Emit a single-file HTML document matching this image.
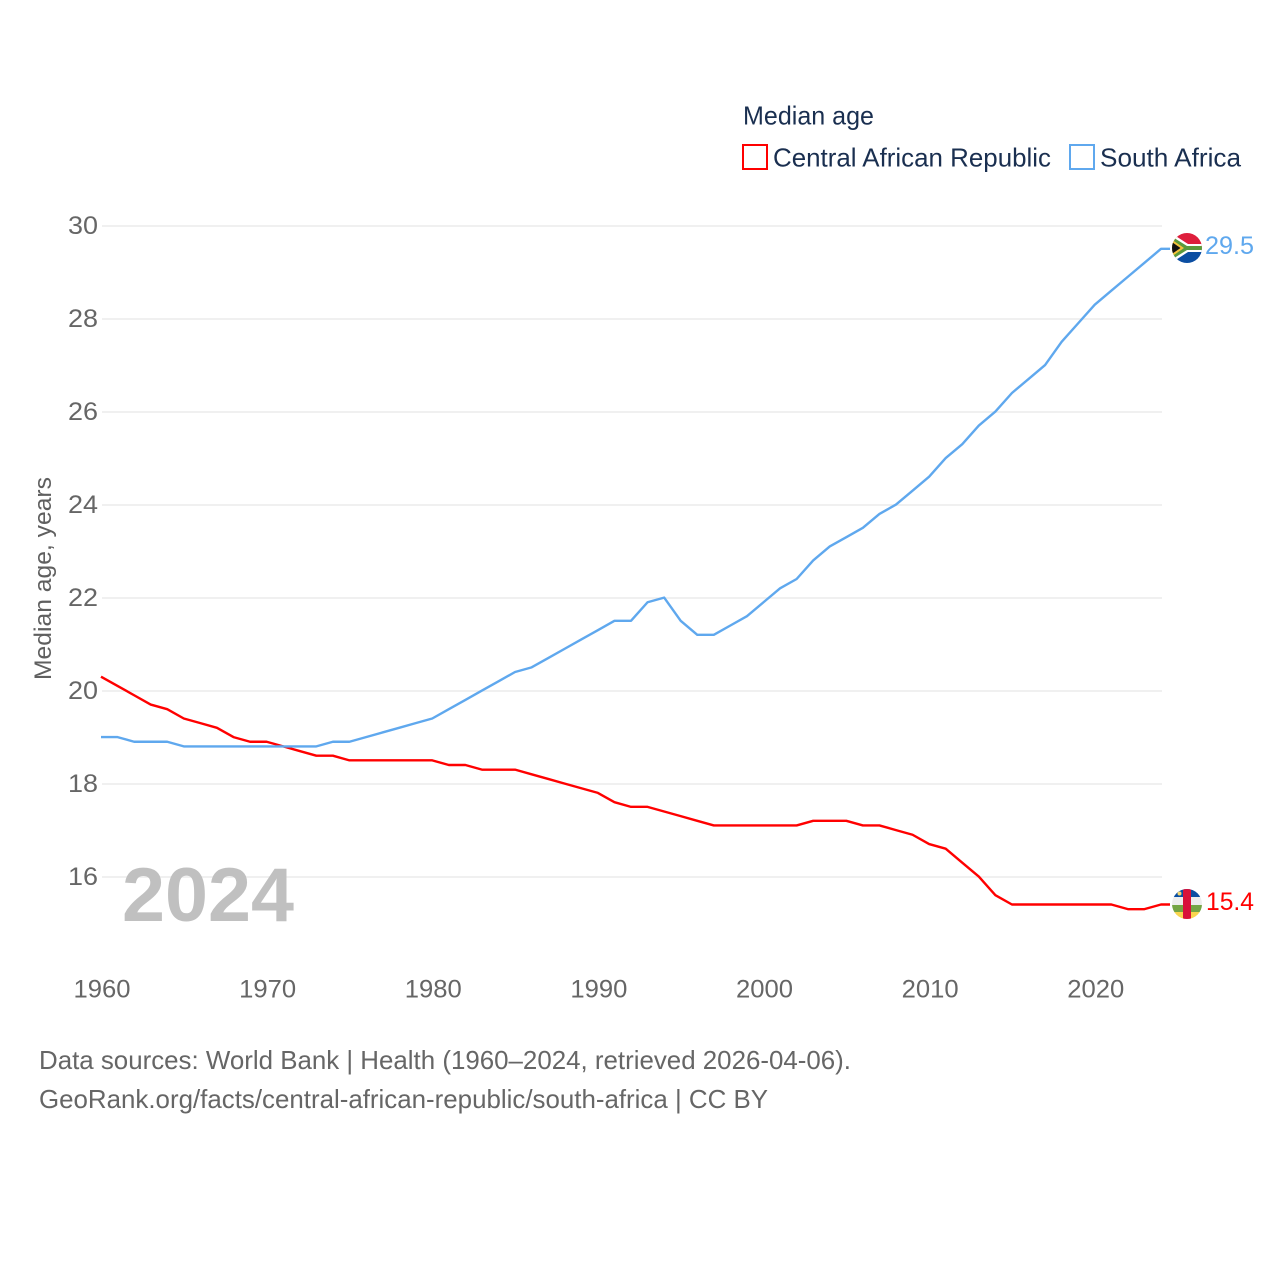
<!DOCTYPE html>
<html lang="en">
<head>
<meta charset="utf-8">
<title>Median age: Central African Republic and South Africa</title>
<style>
html,body{margin:0;padding:0;background:#fff}
svg{display:block}
text{font-family:"Liberation Sans",sans-serif}
</style>
</head>
<body>
<svg id="chart" xmlns="http://www.w3.org/2000/svg" width="1280" height="1280" viewBox="0 0 1280 1280">
  <defs>
    <clipPath id="clip-za"><circle cx="1187" cy="248" r="15"/></clipPath>
    <clipPath id="clip-cf"><circle cx="1187" cy="904" r="15"/></clipPath>
  </defs>
  <rect x="0" y="0" width="1280" height="1280" fill="#fff"/>

  <g id="grid"></g>
  <text x="122" y="921" font-size="76" font-weight="700" fill="#c0c0c0" textLength="172" lengthAdjust="spacingAndGlyphs">2024</text>
  <g id="ylabels"></g>
  <g id="xlabels"></g>
  <text transform="translate(51,680) rotate(-90)" font-size="24.5" fill="#5f5f5f" textLength="203" lengthAdjust="spacingAndGlyphs">Median age, years</text>

  <g id="series"></g>

  <g clip-path="url(#clip-za)">
    <rect x="1171" y="232" width="32" height="16" fill="#de1e3c"/>
    <rect x="1171" y="248" width="32" height="16" fill="#0b4ea2"/>
    <path d="M1171 233 L1188 244 L1203 244 L1203 252 L1188 252 L1171 263 Z" fill="#fff"/>
    <path d="M1171 236 L1187 246 L1203 246 L1203 250 L1187 250 L1171 260 Z" fill="#5c9a3c"/>
    <path d="M1171 239 L1184 248 L1171 257 Z" fill="#f5c33b"/>
    <path d="M1171 241.500 L1180.500 248 L1171 254.500 Z" fill="#111"/>
  </g>
  <g clip-path="url(#clip-cf)">
    <rect x="1171" y="889" width="32" height="8" fill="#0b4ea2"/>
    <rect x="1171" y="897" width="32" height="8" fill="#ededed"/>
    <rect x="1171" y="905" width="32" height="7.500" fill="#74a544"/>
    <rect x="1171" y="912" width="32" height="8" fill="#f9d54f"/>
    <rect x="1183" y="889" width="8" height="31" fill="#d8113a"/>
    <circle cx="1179.500" cy="893.500" r="2" fill="#f5d76e"/>
  </g>

  <text x="1205" y="254" font-size="25" fill="#5fa8ee" textLength="49" lengthAdjust="spacingAndGlyphs">29.5</text>
  <text x="1206" y="910" font-size="25" fill="#ff0000" textLength="48" lengthAdjust="spacingAndGlyphs">15.4</text>

  <g>
    <text x="743" y="124.500" font-size="26" fill="#1a2f50" textLength="131" lengthAdjust="spacingAndGlyphs">Median age</text>
    <rect x="743" y="145" width="24" height="24" fill="#fff" stroke="#ff0000" stroke-width="2"/>
    <text x="773" y="166.500" font-size="26" fill="#1a2f50" textLength="278" lengthAdjust="spacingAndGlyphs">Central African Republic</text>
    <rect x="1070" y="145" width="24" height="24" fill="#fff" stroke="#5fa8ee" stroke-width="2"/>
    <text x="1100" y="166.500" font-size="26" fill="#1a2f50" textLength="141" lengthAdjust="spacingAndGlyphs">South Africa</text>
  </g>

  <g>
    <text x="39" y="1069" font-size="26" fill="#666666" textLength="812" lengthAdjust="spacingAndGlyphs">Data sources: World Bank | Health (1960–2024, retrieved 2026-04-06).</text>
    <text x="39" y="1108" font-size="26" fill="#666666" textLength="729" lengthAdjust="spacingAndGlyphs">GeoRank.org/facts/central-african-republic/south-africa | CC BY</text>
  </g>
</svg>
<script>
var startYear = 1960;
var xTicks = [1960, 1970, 1980, 1990, 2000, 2010, 2020];
var yTicks = [16, 18, 20, 22, 24, 26, 28, 30];
var centralAfricanRepublic = [
  20.3, 20.1, 19.9, 19.7, 19.6, 19.4, 19.3, 19.2, 19.0, 18.9,
  18.9, 18.8, 18.7, 18.6, 18.6, 18.5, 18.5, 18.5, 18.5, 18.5,
  18.5, 18.4, 18.4, 18.3, 18.3, 18.3, 18.2, 18.1, 18.0, 17.9,
  17.8, 17.6, 17.5, 17.5, 17.4, 17.3, 17.2, 17.1, 17.1, 17.1,
  17.1, 17.1, 17.1, 17.2, 17.2, 17.2, 17.1, 17.1, 17.0, 16.9,
  16.7, 16.6, 16.3, 16.0, 15.6, 15.4, 15.4, 15.4, 15.4, 15.4,
  15.4, 15.4, 15.3, 15.3, 15.4
];
var southAfrica = [
  19.0, 19.0, 18.9, 18.9, 18.9, 18.8, 18.8, 18.8, 18.8, 18.8,
  18.8, 18.8, 18.8, 18.8, 18.9, 18.9, 19.0, 19.1, 19.2, 19.3,
  19.4, 19.6, 19.8, 20.0, 20.2, 20.4, 20.5, 20.7, 20.9, 21.1,
  21.3, 21.5, 21.5, 21.9, 22.0, 21.5, 21.2, 21.2, 21.4, 21.6,
  21.9, 22.2, 22.4, 22.8, 23.1, 23.3, 23.5, 23.8, 24.0, 24.3,
  24.6, 25.0, 25.3, 25.7, 26.0, 26.4, 26.7, 27.0, 27.5, 27.9,
  28.3, 28.6, 28.9, 29.2, 29.5
];

var NS = 'http://www.w3.org/2000/svg';
var plotLeft = 101, plotRight = 1161, plotTop = 226, plotBottom = 877;
var endYear = 2024, maxValue = 30, minValue = 16;

function xScale(year) {
  return plotLeft + (year - startYear) * (plotRight - plotLeft) / (endYear - startYear);
}
function yScale(value) {
  return plotTop + (maxValue - value) * (plotBottom - plotTop) / (maxValue - minValue);
}

var gridGroup = document.getElementById('grid');
var yLabelGroup = document.getElementById('ylabels');
var xLabelGroup = document.getElementById('xlabels');
var seriesGroup = document.getElementById('series');

yTicks.forEach(function (tick) {
  var line = document.createElementNS(NS, 'line');
  line.setAttribute('x1', plotLeft + 1);
  line.setAttribute('x2', plotRight + 1);
  line.setAttribute('y1', yScale(tick));
  line.setAttribute('y2', yScale(tick));
  line.setAttribute('stroke', '#ebebeb');
  line.setAttribute('stroke-width', '1.5');
  
  
  gridGroup.appendChild(line);

  var label = document.createElementNS(NS, 'text');
  label.setAttribute('x', 98);
  label.setAttribute('y', yScale(tick) + 8);
  label.setAttribute('text-anchor', 'end');
  label.setAttribute('font-size', '25');
  label.setAttribute('fill', '#666666');
  label.setAttribute('textLength', '30');
  label.setAttribute('lengthAdjust', 'spacingAndGlyphs');
  
  
  label.textContent = tick;
  yLabelGroup.appendChild(label);
});

xTicks.forEach(function (tick) {
  var label = document.createElementNS(NS, 'text');
  label.setAttribute('x', xScale(tick) + 1);
  label.setAttribute('y', 997.5);
  label.setAttribute('text-anchor', 'middle');
  label.setAttribute('font-size', '25');
  label.setAttribute('fill', '#666666');
  label.setAttribute('textLength', '57');
  label.setAttribute('lengthAdjust', 'spacingAndGlyphs');
  
  
  label.textContent = tick;
  xLabelGroup.appendChild(label);
});

function drawSeries(values, color, name) {
  var points = values.map(function (value, i) {
    return xScale(startYear + i).toFixed(2) + ',' + (yScale(value) - 0.4).toFixed(2);
  });
  var lastY = (yScale(values[values.length - 1]) - 0.4).toFixed(2);
  points.push((plotRight + 9) + ',' + lastY);
  var line = document.createElementNS(NS, 'polyline');
  line.setAttribute('points', points.join(' '));
  line.setAttribute('fill', 'none');
  line.setAttribute('stroke', color);
  line.setAttribute('stroke-width', '2.4');
  line.setAttribute('stroke-linejoin', 'round');
  
  
  seriesGroup.appendChild(line);
}

drawSeries(centralAfricanRepublic, '#ff0000', 'central-african-republic-line');
drawSeries(southAfrica, '#5fa8ee', 'south-africa-line');
</script>
</body>
</html>
